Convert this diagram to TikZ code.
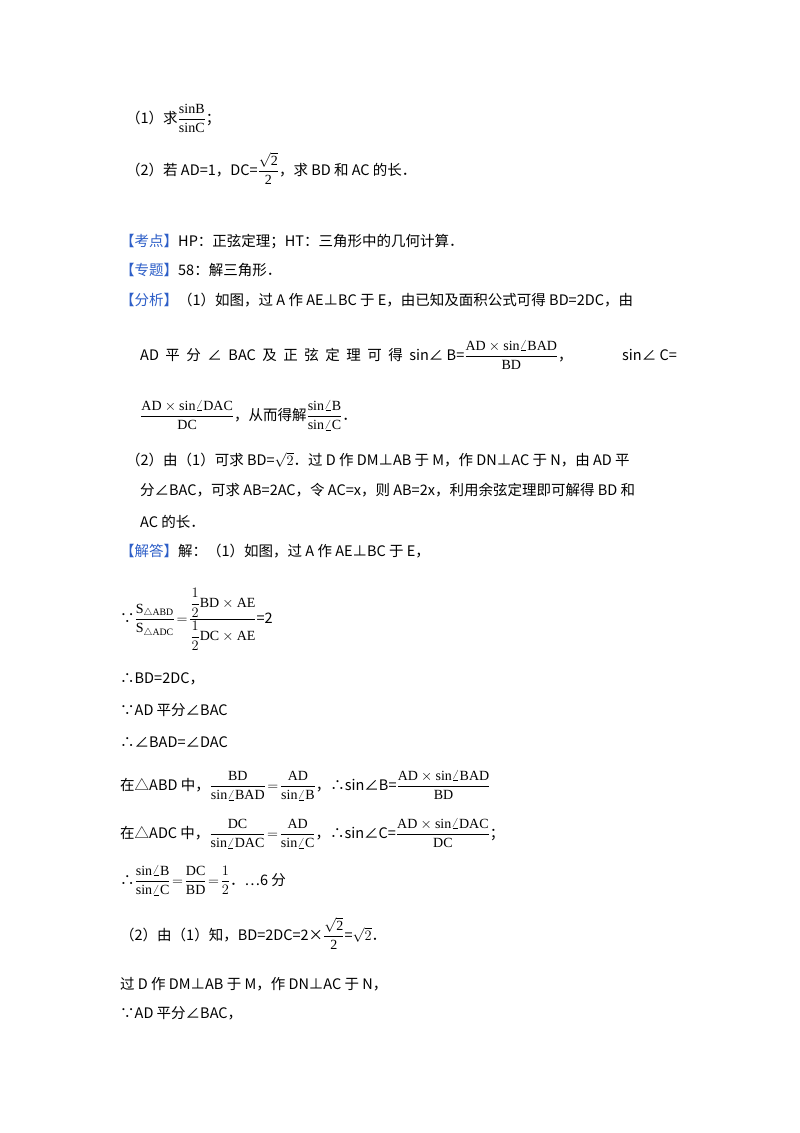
\documentclass[tikz,border=0pt]{standalone}
\usepackage{amsmath}
\usepackage{fontspec}
\setmainfont{Noto Sans CJK SC}
\setmathrm{Liberation Serif}
\definecolor{hd}{HTML}{2E5FC8}
\tikzset{ln/.style={anchor=base west,inner sep=0pt,font=\fontsize{14.5}{16}\selectfont}}
\newcommand{\fr}[2]{{\fontsize{14}{15}\selectfont$\dfrac{\mathrm{#1}}{\mathrm{#2}}$}}
\newcommand{\hdr}[1]{\textcolor{hd}{【#1】}}
\begin{document}
\begin{tikzpicture}[x=1pt,y=-1pt]
\useasboundingbox[fill=white] (0,0) rectangle (800,1133);
\node[ln] (l1) at (126,123) {（1）求\fr{sinB}{sinC}；};
\node[ln] (l2) at (126,175) {（2）若 AD=1，DC=\fr{\sqrt{2}}{2}，求 BD 和 AC 的长．};
\node[ln] (l3) at (120,246) {\hdr{考点}HP：正弦定理；HT：三角形中的几何计算．};
\node[ln] (l4) at (120,275) {\hdr{专题}58：解三角形．};
\node[ln] (l5) at (120,305) {\hdr{分析}（1）如图，过 A 作 AE⊥BC 于 E，由已知及面积公式可得 BD=2DC，由};
\node[ln] (l6) at (140,360) {AD\ \ 平\ \ 分\ \ ∠\ \ BAC\ \ 及\ \ 正\ \ 弦\ \ 定\ \ 理\ \ 可\ \ 得\ \ sin∠\ B=\fr{AD\times sin\angle BAD}{BD}，};
\node[ln] (l6b) at (622,360) {sin∠\ C=};
\node[ln] (l7) at (140,420) {\fr{AD\times sin\angle DAC}{DC}，从而得解\fr{sin\angle B}{sin\angle C}．};
\node[ln] (l8) at (126,465) {（2）由（1）可求 BD=$\sqrt{2}$．过 D 作 DM⊥AB 于 M，作 DN⊥AC 于 N，由 AD 平};
\node[ln] (l9) at (140,495) {分∠BAC，可求 AB=2AC，令 AC=x，则 AB=2x，利用余弦定理即可解得 BD 和};
\node[ln] (l10) at (140,527) {AC 的长．};
\node[ln] (l11) at (120,556) {\hdr{解答}解：（1）如图，过 A 作 AE⊥BC 于 E，};
\node[ln] (l12) at (120,623) {∵{\fontsize{14}{15}\selectfont$\dfrac{\mathrm{S}_{\triangle \mathrm{ABD}}}{\mathrm{S}_{\triangle \mathrm{ADC}}}\!=\!\dfrac{\dfrac12\mathrm{BD}\times\mathrm{AE}}{\dfrac12\mathrm{DC}\times\mathrm{AE}}$}=2};
\node[ln] (l13) at (120,683) {∴BD=2DC，};
\node[ln] (l14) at (120,715) {∵AD 平分∠BAC};
\node[ln] (l15) at (120,747) {∴∠BAD=∠DAC};
\node[ln] (l16) at (120,790) {在△ABD 中，{\fontsize{14}{15}\selectfont$\dfrac{\mathrm{BD}}{\mathrm{sin}\angle\mathrm{BAD}}\!=\!\dfrac{\mathrm{AD}}{\mathrm{sin}\angle\mathrm{B}}$}，∴sin∠B=\fr{AD\times sin\angle BAD}{BD}};
\node[ln] (l17) at (120,838) {在△ADC 中，{\fontsize{14}{15}\selectfont$\dfrac{\mathrm{DC}}{\mathrm{sin}\angle\mathrm{DAC}}\!=\!\dfrac{\mathrm{AD}}{\mathrm{sin}\angle\mathrm{C}}$}，∴sin∠C=\fr{AD\times sin\angle DAC}{DC}；};
\node[ln] (l18) at (120,885) {∴{\fontsize{14}{15}\selectfont$\dfrac{\mathrm{sin}\angle\mathrm{B}}{\mathrm{sin}\angle\mathrm{C}}\!=\!\dfrac{\mathrm{DC}}{\mathrm{BD}}\!=\!\dfrac{1}{2}$}．…6 分};
\node[ln] (l19) at (120,940) {（2）由（1）知，BD=2DC=2×\fr{\sqrt{2}}{2}=$\sqrt{2}$．};
\node[ln] (l20) at (120,989) {过 D 作 DM⊥AB 于 M，作 DN⊥AC 于 N，};
\node[ln] (l21) at (120,1018) {∵AD 平分∠BAC，};
\end{tikzpicture}
\end{document}
